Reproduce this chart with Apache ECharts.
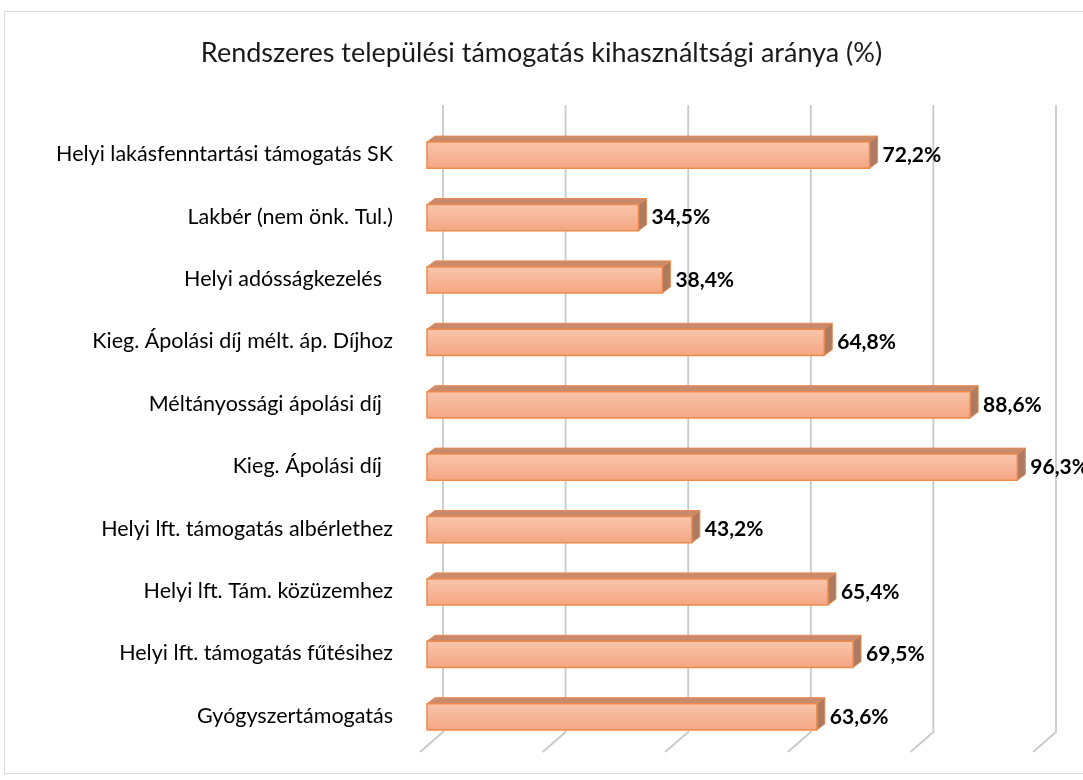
<!DOCTYPE html>
<html>
<head>
<meta charset="utf-8">
<script src="https://cdn.jsdelivr.net/npm/echarts@6/dist/echarts.min.js"></script>
<style>
  html, body { margin: 0; padding: 0; background: #fff; }
  #chart { width: 1083px; height: 780px; }
</style>
</head>
<body>
<div id="chart"></div>
<script>
// kategóriák fentről lefelé
const categories = [
    'Helyi lakásfenntartási támogatás SK',
    'Lakbér (nem önk. Tul.)',
    'Helyi adósságkezelés  ',
    'Kieg. Ápolási díj mélt. áp. Díjhoz',
    'Méltányossági ápolási díj  ',
    'Kieg. Ápolási díj  ',
    'Helyi lft. támogatás albérlethez',
    'Helyi lft. Tám. közüzemhez',
    'Helyi lft. támogatás fűtésihez',
    'Gyógyszertámogatás'
];
const values = [72.2, 34.5, 38.4, 64.8, 88.6, 96.3, 43.2, 65.4, 69.5, 63.6];
const gridTicks = [0, 20, 40, 60, 80, 100];

const chart = echarts.init(document.getElementById('chart'));

// 3D hatás mélysége
const dx = 8, dy = 6;

function renderBar(params, api) {
    const cat = api.value(1);
    const val = api.value(0);
    const start = api.coord([0, cat]);
    const end = api.coord([val, cat]);
    const band = api.size([0, 1])[1];
    const h = band * 0.42;
    const x0 = start[0], x1 = end[0];
    const yt = start[1] - h / 2 + 1, yb = start[1] + h / 2 + 1;
    const label = val.toFixed(1).replace('.', ',') + '%';
    return {
        type: 'group',
        children: [
            {
                type: 'polygon',
                shape: { points: [[x0, yt], [x0 + dx, yt - dy], [x1 + dx, yt - dy], [x1, yt]] },
                style: { fill: '#c88a6c', stroke: '#e98a4e', lineWidth: 1 }
            },
            {
                type: 'polygon',
                shape: { points: [[x1, yt], [x1 + dx, yt - dy], [x1 + dx, yb - dy], [x1, yb]] },
                style: { fill: '#ad7a62', stroke: '#e98a4e', lineWidth: 1 }
            },
            {
                type: 'rect',
                shape: { x: x0, y: yt, width: x1 - x0, height: yb - yt },
                style: {
                    fill: new echarts.graphic.LinearGradient(0, 0, 0, 1, [
                        { offset: 0, color: '#f9c6ad' },
                        { offset: 1, color: '#f4a582' }
                    ]),
                    stroke: '#ee8a4c',
                    lineWidth: 1.5
                }
            },
            {
                type: 'text',
                style: {
                    text: label,
                    x: x1 + dx + 5,
                    y: start[1] + 1,
                    verticalAlign: 'middle',
                    align: 'left',
                    fill: '#000',
                    font: 'bold 21px Lato, sans-serif'
                }
            }
        ]
    };
}

function renderGrid(params, api) {
    const p = api.coord([api.value(0), 0]);
    const cs = params.coordSys;
    const bx = p[0] + 16;
    const top = cs.y - 18;
    const back = cs.y + cs.height - 15;
    const front = cs.y + cs.height + 5;
    return {
        type: 'polyline',
        shape: { points: [[bx, top], [bx, back], [p[0] - 7, front]] },
        style: { stroke: '#c9c9c9', lineWidth: 1.8, fill: null }
    };
}

const option = {
    animation: false,
    backgroundColor: '#fff',
    title: {
        text: 'Rendszeres települési támogatás kihasználtsági aránya (%)',
        left: 'center',
        top: 35,
        textStyle: { fontFamily: 'Lato, sans-serif', fontSize: 27, fontWeight: 'normal', color: '#1a1a1a' }
    },
    graphic: [{
        type: 'rect',
        shape: { x: 4.5, y: 11.5, width: 1100, height: 762 },
        style: { fill: null, stroke: '#d9d9d9', lineWidth: 1 },
        silent: true
    }],
    grid: { left: 427, right: 43, top: 123, bottom: 33 },
    xAxis: {
        type: 'value',
        min: 0, max: 100, interval: 20,
        axisLabel: { show: false },
        axisLine: { show: false },
        axisTick: { show: false },
        splitLine: { show: false }
    },
    yAxis: {
        type: 'category',
        data: categories,
        inverse: true,
        axisLine: { show: false },
        axisTick: { show: false },
        axisLabel: { margin: 34, fontFamily: 'Lato, sans-serif', fontSize: 21.5, color: '#000' }
    },
    series: [
        {
            type: 'custom',
            renderItem: renderGrid,
            data: gridTicks.map(v => [v, 0]),
            z: 1,
            silent: true
        },
        {
            type: 'custom',
            renderItem: renderBar,
            encode: { x: 0, y: 1 },
            data: values.map((v, i) => [v, i]),
            z: 2
        }
    ]
};

chart.setOption(option);
</script>
</body>
</html>
